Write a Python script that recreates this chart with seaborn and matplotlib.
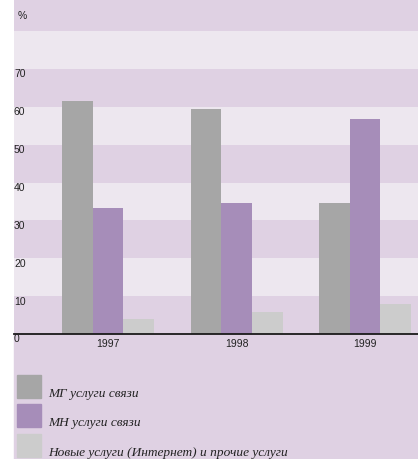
import pandas as pd
import seaborn as sns
import matplotlib.pyplot as plt
from matplotlib.patches import Rectangle
from matplotlib.transforms import blended_transform_factory

# values (%)
years = ['1997', '1998', '1999']
services = ['МГ услуги связи', 'МН услуги связи',
            'Новые услуги (Интернет) и прочие услуги']
mg_values = [61.5, 59.4, 34.6]
mn_values = [33.2, 34.6, 56.7]
new_values = [4.0, 5.8, 7.9]
y_ticks = [0, 10, 20, 30, 40, 50, 60, 70]

colors = ['#A6A6A6', '#A68DB9', '#CCCCCC']
band_dark = '#DFD1E3'
band_light = '#EDE7EF'

df = pd.DataFrame({
    'year': years * 3,
    'service': [s for s in services for _ in years],
    'value': mg_values + mn_values + new_values,
})

W, H = 418, 459
fig = plt.figure(figsize=(W / 100, H / 100), dpi=100)
fig.patch.set_facecolor('white')

# purple background under the legend area
fig.patches.append(Rectangle((14 / W, 0), 1, (H - 334) / H, transform=fig.transFigure,
                             color=band_dark, zorder=-1))

ax = fig.add_axes([14 / W, (H - 334) / H, (W - 14) / W, 334 / H])
ax.set_zorder(1)
ax.set_facecolor(band_dark)

# alternating horizontal bands
for lo in range(0, 90, 10):
    ax.axhspan(lo, lo + 10, color=band_dark if (lo // 10) % 2 == 0 else band_light,
               lw=0, zorder=0)

sns.barplot(data=df, x='year', y='value', hue='service', palette=colors,
            width=0.716, saturation=1, legend=False, ax=ax, zorder=2)

ax.set_ylim(0, 334 / 3.786)
ax.set_xlim(-0.732, 2.412)
for s in ax.spines.values():
    s.set_visible(False)
ax.axhline(0, color='#1a1a1a', lw=1.3, zorder=3, clip_on=False)

ax.set_xlabel('')
ax.set_ylabel('')
ax.set_yticks([])
ax.tick_params(axis='x', length=0, pad=3.5, labelsize=7.5, labelcolor='#222222')

trans = blended_transform_factory(ax.transAxes, ax.transData)
for t in y_ticks:
    ax.text(0.0, t - 0.1, str(t), transform=trans, ha='left', va='top',
            fontsize=7.5, color='#222222', family='Liberation Sans', clip_on=False)
ax.text(0.008, 83.9, '%', transform=trans, ha='left', va='center',
        fontsize=7.5, color='#222222', family='Liberation Sans')
for lab in ax.get_xticklabels():
    lab.set_family('Liberation Sans')

# legend: squares with text at their lower right
tops = [375, 404, 434]
for name, c, top in zip(services, colors, tops):
    fig.patches.append(Rectangle((17 / W, (H - top - 23) / H), 24 / W, 23 / H,
                                 transform=fig.transFigure, color=c, zorder=1))
    fig.text(48 / W, (H - top - 22) / H, name, ha='left', va='baseline',
             fontsize=9.6, style='italic', family='Liberation Serif', color='#222222')

plt.savefig('out.png', dpi=100)
